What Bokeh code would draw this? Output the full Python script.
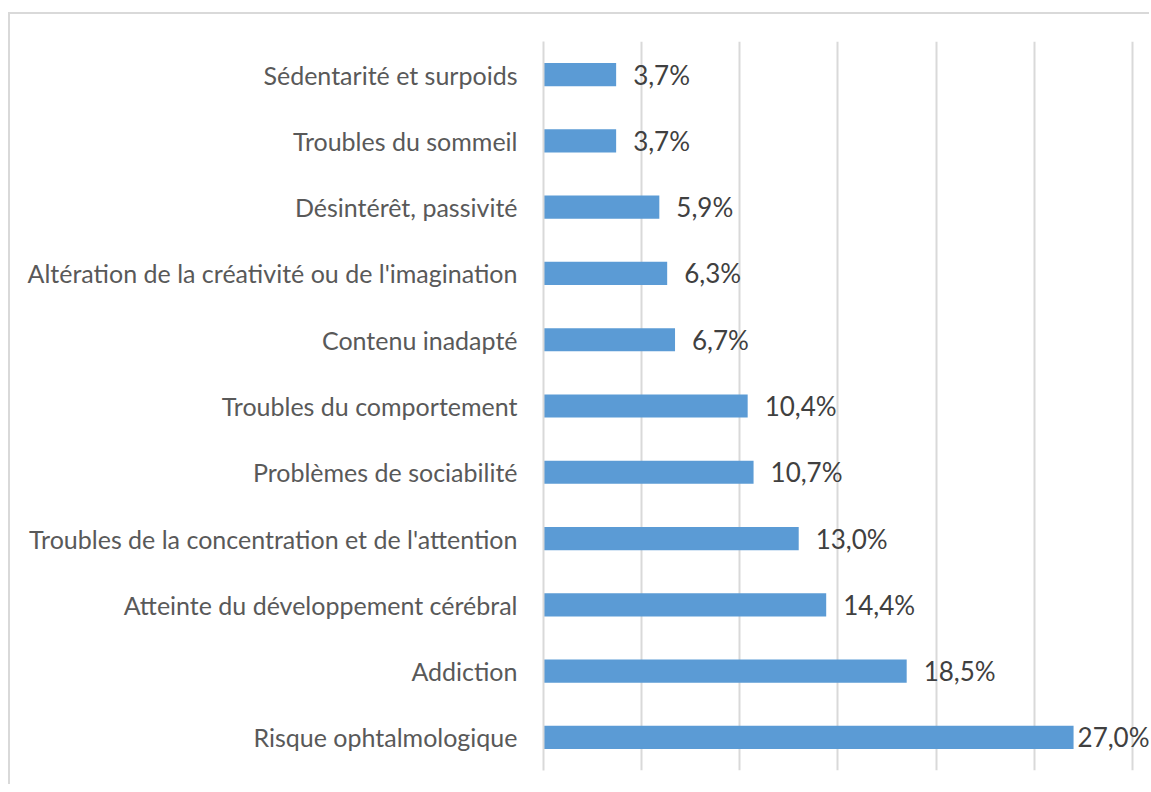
from bokeh.plotting import figure
from bokeh.models import ColumnDataSource, FactorRange, Range1d, FixedTicker
from bokeh.core.properties import value
from bokeh.embed import file_html
from bokeh.resources import INLINE

categories = [
    "Sédentarité et surpoids",
    "Troubles du sommeil",
    "Désintérêt, passivité",
    "Altération de la créativité ou de l'imagination",
    "Contenu inadapté",
    "Troubles du comportement",
    "Problèmes de sociabilité",
    "Troubles de la concentration et de l'attention",
    "Atteinte du développement cérébral",
    "Addiction",
    "Risque ophtalmologique",
]
values = [3.7, 3.7, 5.9, 6.3, 6.7, 10.4, 10.7, 13.0, 14.4, 18.5, 27.0]
grid_ticks = [0, 5, 10, 15, 20, 25, 30]

labels = [f"{v:.1f}".replace(".", ",") + "%" for v in values]
offsets = [17 if v < 25 else 4 for v in values]

src = ColumnDataSource(dict(cat=categories, val=values, lab=labels, off=offsets))

p = figure(
    y_range=FactorRange(*reversed(categories), range_padding=0),
    x_range=Range1d(0, 30.97),
    width=1141, height=772,
    output_backend="svg", toolbar_location=None,
    min_border_left=533, min_border_right=0,
    min_border_top=27, min_border_bottom=16,
)
p.margin = (12, 0, 0, 8)
p.styles = {"border-top": "2px solid #d9d9d9", "border-left": "2px solid #d9d9d9"}
p.outline_line_color = None
p.background_fill_color = "white"
p.border_fill_color = "white"

p.hbar(y="cat", right="val", left=0, height=0.35, source=src,
       fill_color="#5b9bd5", line_color=None)

p.text(x="val", y="cat", text="lab", source=src, x_offset="off",
       text_baseline="middle", text_align="left",
       text_font=value("Lato"), text_font_size="26px", text_color="#404040")

p.xaxis.visible = False
p.xgrid.ticker = FixedTicker(ticks=grid_ticks)
p.xgrid.grid_line_color = "#d9d9d9"
p.xgrid.grid_line_width = 2
p.ygrid.grid_line_color = None

ya = p.yaxis[0]
ya.axis_line_color = "#d9d9d9"
ya.axis_line_width = 2
ya.major_tick_line_color = None
ya.minor_tick_line_color = None
ya.major_tick_out = 0
ya.major_tick_in = 0
ya.major_label_standoff = 26
ya.major_label_text_font = "Lato"
ya.major_label_text_font_size = "25px"
ya.major_label_text_color = "#595959"

open("out.html", "w").write(file_html(p, INLINE))
